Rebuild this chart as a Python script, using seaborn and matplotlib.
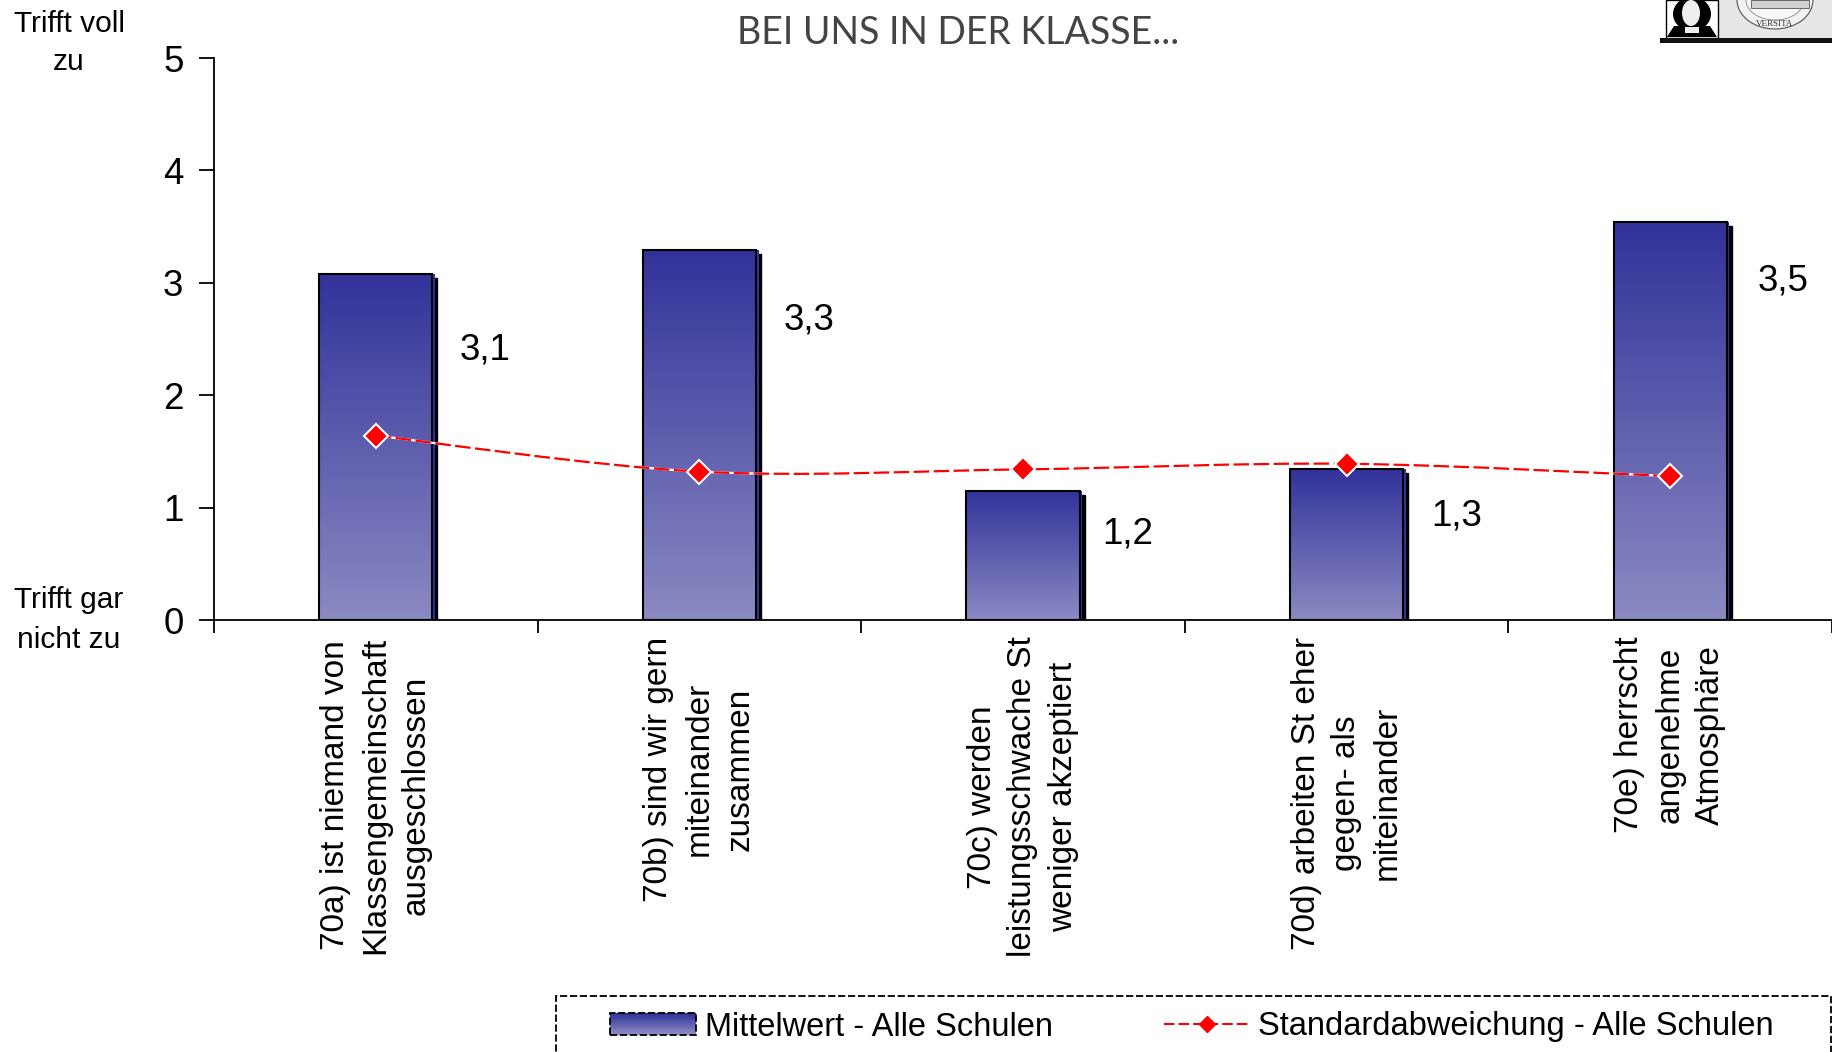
import numpy as np
import pandas as pd
import matplotlib
matplotlib.use("Agg")
import matplotlib.pyplot as plt
import seaborn as sns
from matplotlib.legend_handler import HandlerPatch
from matplotlib.lines import Line2D
from matplotlib.patches import Rectangle, Ellipse, PathPatch, Patch, Polygon
from matplotlib.path import Path
from matplotlib.transforms import ScaledTranslation

# values
categories = [
    "70a) ist niemand von\nKlassengemeinschaft\nausgeschlossen",
    "70b) sind wir gern\nmiteinander\nzusammen",
    "70c) werden\nleistungsschwache St\nweniger akzeptiert",
    "70d) arbeiten St eher\ngegen- als\nmiteinander",
    "70e) herrscht\nangenehme\nAtmosphäre",
]
mean_values = [3.08, 3.29, 1.15, 1.34, 3.54]
sd_values = [1.64, 1.32, 1.34, 1.39, 1.28]
mean_labels = ["3,1", "3,3", "1,2", "1,3", "3,5"]
y_ticks = [0, 1, 2, 3, 4, 5]

# label offsets from the bar's top centre, in pixels
label_dx = [109, 110, 105, 110, 113]
label_dy = [-76, -70, -43, -47, -59]

W, H = 1832, 1052
TOP_COLOR = "#32329A"
BOTTOM_COLOR = "#8B8AC2"

sns.set_theme(style="white")
plt.rcParams["font.family"] = ["Liberation Sans", "DejaVu Sans"]

gradient = matplotlib.colors.LinearSegmentedColormap.from_list("bar", [TOP_COLOR, BOTTOM_COLOR])
ramp = np.linspace(0, 1, 256).reshape(-1, 1)


def px_rect(x0, y0, x1, y1):
    # pixel box (y from the top) to figure fractions
    return [x0 / W, 1 - y1 / H, (x1 - x0) / W, (y1 - y0) / H]


fig = plt.figure(figsize=(W / 100, H / 100), dpi=100)
ax = fig.add_axes(px_rect(214, 58, 1832, 620))

df = pd.DataFrame({"item": categories, "mean": mean_values})
sns.barplot(data=df, x="item", y="mean", width=0.35, color=TOP_COLOR, ax=ax,
            edgecolor="black", linewidth=1.5, zorder=3, saturation=1)
ax.set_xlim(-0.5, 4.5)
ax.set_ylim(0, 5)

# black shadow and thin blue strip behind each bar, gradient inside each bar
shadow_shift = ScaledTranslation(5 / 100, -4 / 100, fig.dpi_scale_trans)
strip_shift = ScaledTranslation(2.5 / 100, 0, fig.dpi_scale_trans)
for bar in list(ax.patches):
    x, w, h = bar.get_x(), bar.get_width(), bar.get_height()
    ax.add_patch(Rectangle((x, 0), w, h, facecolor="black", edgecolor="black",
                           transform=ax.transData + shadow_shift, zorder=2))
    ax.add_patch(Rectangle((x, 0), w, h, facecolor=TOP_COLOR, edgecolor="none",
                           transform=ax.transData + strip_shift, zorder=2.5))
    ax.imshow(ramp, extent=(x, x + w, 0, h), aspect="auto", cmap=gradient, zorder=3.5)
    bar.set_facecolor("none")
    bar.set_zorder(4)
ax.set_xlim(-0.5, 4.5)
ax.set_ylim(0, 5)

# smooth line as in the spreadsheet chart, control points come from the values
xs = np.arange(len(sd_values), dtype=float)
pts = np.column_stack([xs, sd_values])
verts, codes = [pts[0]], [Path.MOVETO]
for i in range(len(pts) - 1):
    before = pts[max(i - 1, 0)]
    after = pts[min(i + 2, len(pts) - 1)]
    verts += [pts[i] + (pts[i + 1] - before) / 6, pts[i + 1] - (after - pts[i]) / 6, pts[i + 1]]
    codes += [Path.CURVE4] * 3
curve = Path(verts, codes)
ax.add_patch(PathPatch(curve, fill=False, edgecolor="white", lw=1.6, zorder=5))
ax.add_patch(PathPatch(curve, fill=False, edgecolor="#FF0000", lw=1.6, ls=(0, (7, 2)), zorder=6))
sns.lineplot(x=xs, y=sd_values, ax=ax, linestyle="none", marker="D", markersize=12.5,
             color="#FF0000", markeredgecolor="white", markeredgewidth=1.5, zorder=7, legend=False)

for i in range(len(mean_values)):
    ax.annotate(mean_labels[i], (i, mean_values[i]), xytext=(label_dx[i] * 0.72, label_dy[i] * 0.72),
                textcoords="offset points", ha="center", va="center", fontsize=26.5, color="black", zorder=8)

sns.despine(ax=ax)
for side in ["left", "bottom"]:
    ax.spines[side].set_color("black")
    ax.spines[side].set_linewidth(1.3)
ax.spines["bottom"].set_zorder(9)

ax.set_xlabel("")
ax.set_ylabel("")
ax.set_yticks(y_ticks)
ax.set_yticklabels([str(t) for t in y_ticks])
ax.tick_params(axis="y", direction="out", length=11, width=1.3, color="black", labelsize=26.5,
               labelcolor="black", pad=11, left=True)
ax.set_xticks(np.arange(-0.5, 5, 1))
ax.set_xticklabels([])
ax.tick_params(axis="x", which="major", direction="out", length=9, width=1.3, color="black", bottom=True)
ax.set_xticks(xs, minor=True)
ax.set_xticklabels(categories, minor=True, rotation=90, ha="center", va="top", ma="center",
                   fontsize=24, linespacing=1.4, color="black")
ax.tick_params(axis="x", which="minor", length=0, pad=12)

# side labels and title
fig.text(69 / W, 1 - 43 / H, "Trifft voll\nzu", ha="center", va="center", fontsize=21.5, linespacing=1.5, color="black")
fig.text(69 / W, 1 - 620 / H, "Trifft gar\nnicht zu", ha="center", va="center", fontsize=21.5, linespacing=1.5, color="black")
fig.text(958 / W, 1 - 33 / H, "BEI UNS IN DER KLASSE...", ha="center", va="center",
         fontsize=27, family="Lato", color="#444444")


# legend, the box itself runs out of the picture at the bottom
class GradientHandler(HandlerPatch):
    def create_artists(self, legend, orig_handle, xdescent, ydescent, width, height, fontsize, trans):
        parts = []
        steps = 12
        for k in range(steps):
            c = gradient(k / (steps - 1))
            parts.append(Rectangle((-xdescent, -ydescent + height * (1 - (k + 1) / steps)), width,
                                   height / steps, facecolor=c, edgecolor=c, lw=0.2, transform=trans))
        parts.append(Rectangle((-xdescent, -ydescent), width, height, facecolor="none", edgecolor="black",
                               lw=1.3, ls=(0, (4, 1.5)), transform=trans))
        return parts


fig.add_artist(Rectangle((556 / W, 1 - 1100 / H), 1275 / W, 104 / H, transform=fig.transFigure, fill=False,
                         edgecolor="black", lw=1.3, ls=(0, (4, 1.5))))
handles = [Patch(label="Mittelwert - Alle Schulen"),
           Line2D([], [], color="#FF0000", lw=1.5, ls=(0, (5, 2)), marker="D", markersize=8,
                  markeredgecolor="#FF0000", label="Standardabweichung - Alle Schulen")]
fig.legend(handles=handles, loc="center left", bbox_to_anchor=(610 / W, 1 - 1027 / H), ncols=2, frameon=False,
           fontsize=23.5, handlelength=2.65, handleheight=0.62, handletextpad=0.25, columnspacing=3.4,
           borderpad=0, borderaxespad=0, labelcolor="black",
           handler_map={Patch: GradientHandler()})

# logo corner, drawn roughly
logo = fig.add_axes(px_rect(1660, 0, 1832, 43))
logo.set_xlim(1660, 1832)
logo.set_ylim(43, 0)
logo.axis("off")
logo.add_patch(Rectangle((1718, 0), 114, 38, facecolor="#E6E6E6", edgecolor="none"))
logo.add_patch(Rectangle((1666, 0), 52, 38, facecolor="white", edgecolor="black", lw=1))
logo.add_patch(Ellipse((1692, 14), 38, 34, facecolor="black", edgecolor="none"))
logo.add_patch(Polygon([(1667, 37), (1674, 26), (1710, 26), (1717, 37)], facecolor="black", edgecolor="none"))
logo.add_patch(Ellipse((1691, 13), 18, 26, facecolor="#EEEEEE", edgecolor="none"))
logo.add_patch(Rectangle((1685, 27), 14, 6, facecolor="#EEEEEE", edgecolor="none"))
logo.add_patch(Ellipse((1775, 0), 76, 58, facecolor="#F2F2F2", edgecolor="#555555", lw=0.8))
logo.add_patch(Ellipse((1775, 0), 58, 40, facecolor="#F7F7F7", edgecolor="#888888", lw=0.6))
logo.add_patch(Rectangle((1751, 0), 58, 8, facecolor="#D0D0D0", edgecolor="#555555", lw=0.6))
logo.text(1775, 24, "VERSITA", ha="center", va="center", fontsize=6.5, color="#333333", family="Liberation Serif")
logo.add_patch(Rectangle((1660, 38), 172, 5, facecolor="#111111", edgecolor="none"))

fig.savefig("out.png", dpi=100)
